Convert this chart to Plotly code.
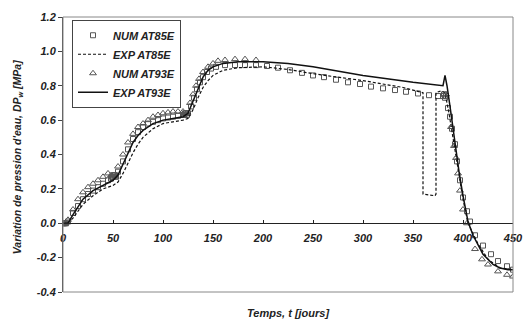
import plotly.graph_objects as go

# ---------------- data ----------------
# NUM AT85E (open squares)
num85_t = [0, 1, 2, 3, 5, 10, 15, 20, 25, 30, 35, 40, 45, 48, 49, 50, 51, 52, 53,
           55, 60, 65, 70, 75, 80, 85, 90, 95, 100, 105, 110, 115, 120, 121, 122, 123, 124, 125,
           128, 131, 134, 137, 140, 144, 148, 153, 162, 172, 182, 193, 204, 215, 227, 239,
           250, 261, 273, 285, 297, 308, 320, 332, 343, 355, 366, 375, 380, 381, 382, 383,
           385, 387, 389, 392, 394, 397, 400, 404, 407, 412, 420, 428, 435, 444, 450]
num85_v = [0.0, 0.0, 0.0, 0.0, 0.01, 0.06, 0.10, 0.14, 0.17, 0.19, 0.21, 0.23, 0.25, 0.26, 0.27, 0.27, 0.28, 0.28, 0.27,
           0.30, 0.36, 0.43, 0.49, 0.53, 0.56, 0.58, 0.59, 0.60, 0.61, 0.615, 0.62, 0.625, 0.63, 0.63, 0.64, 0.64, 0.63, 0.64,
           0.68, 0.73, 0.78, 0.82, 0.85, 0.88, 0.90, 0.91, 0.92, 0.92, 0.92, 0.92, 0.915, 0.905, 0.89, 0.875,
           0.86, 0.85, 0.835, 0.82, 0.81, 0.795, 0.785, 0.775, 0.765, 0.755, 0.745, 0.74, 0.74, 0.75, 0.73, 0.74,
           0.67, 0.62, 0.55, 0.46, 0.36, 0.25, 0.15, 0.07, 0.01, -0.07, -0.13, -0.18, -0.22, -0.25, -0.27]

# EXP AT85E (dashed line)
exp85_t = [0, 5, 10, 20, 30, 40, 50, 55, 60, 65, 70, 75, 80, 90, 100, 110, 120, 125,
           130, 135, 140, 145, 150, 160, 175, 200, 225, 250, 300, 340, 360, 360, 372, 373, 373,
           378, 382, 386, 390, 395, 400, 405, 415, 425, 437, 450]
exp85_v = [0.0, 0.0, 0.03, 0.11, 0.16, 0.20, 0.22, 0.24, 0.29, 0.35, 0.41, 0.46, 0.50, 0.55, 0.58, 0.59, 0.60, 0.61,
           0.66, 0.73, 0.79, 0.83, 0.86, 0.89, 0.905, 0.91, 0.895, 0.87, 0.83, 0.79, 0.76, 0.17, 0.16, 0.17, 0.76,
           0.77, 0.76, 0.64, 0.50, 0.31, 0.14, 0.0, -0.12, -0.21, -0.26, -0.27]

# NUM AT93E (open triangles)
num93_t = [0, 1, 2, 5, 10, 15, 20, 25, 30, 35, 40, 45, 48, 50, 52,
           55, 60, 65, 70, 75, 80, 85, 90, 95, 100, 105, 110, 115, 120, 122, 124,
           127, 130, 133, 136, 140, 145, 150, 155, 162, 172, 182, 193,
           383, 388, 391, 393, 395, 397, 400, 404, 412, 419, 425, 435, 444, 450]
num93_v = [0.0, 0.0, 0.0, 0.02, 0.08, 0.14, 0.18, 0.21, 0.23, 0.25, 0.27, 0.29, 0.28, 0.28, 0.27,
           0.33, 0.40, 0.47, 0.52, 0.56, 0.58, 0.60, 0.62, 0.63, 0.64, 0.645, 0.65, 0.65, 0.65, 0.64, 0.64,
           0.70, 0.75, 0.80, 0.84, 0.88, 0.91, 0.93, 0.945, 0.95, 0.955, 0.955, 0.95,
           0.75, 0.56, 0.45, 0.38, 0.29, 0.19, 0.08, 0.0, -0.15, -0.21, -0.24, -0.28, -0.30, -0.31]

# EXP AT93E (solid line)
exp93_t = [0, 5, 10, 20, 30, 40, 50, 55, 60, 65, 70, 75, 80, 90, 100, 110, 120, 125,
           130, 135, 140, 145, 150, 160, 175, 200, 225, 250, 300, 350, 380, 382, 384,
           387, 390, 393, 396, 400, 405, 410, 415, 420, 425, 430, 437, 445, 450]
exp93_v = [0.0, 0.0, 0.05, 0.14, 0.19, 0.22, 0.25, 0.28, 0.34, 0.41, 0.47, 0.51, 0.54, 0.58, 0.60, 0.61, 0.62, 0.64,
           0.71, 0.79, 0.85, 0.89, 0.91, 0.93, 0.94, 0.94, 0.93, 0.91, 0.86, 0.82, 0.80, 0.86, 0.80,
           0.68, 0.55, 0.42, 0.30, 0.16, 0.01, -0.07, -0.13, -0.18, -0.21, -0.24, -0.26, -0.27, -0.27]

x_ticks = [0, 50, 100, 150, 200, 250, 300, 350, 400, 450]
y_ticks = [-0.4, -0.2, 0.0, 0.2, 0.4, 0.6, 0.8, 1.0, 1.2]
y_ticktext = ["-0.4", "-0.2", "0.0", "0.2", "0.4", "0.6", "0.8", "1.0", "1.2"]

# ---------------- figure ----------------
FONT = "Liberation Sans, Arial, sans-serif"
TXT = "#222222"
MK = "#555555"

fig = go.Figure()
fig.add_trace(go.Scatter(x=num85_t, y=num85_v, mode="markers", name="NUM AT85E",
                         marker=dict(symbol="square-open", size=5, color=MK, line=dict(width=1, color=MK))))
fig.add_trace(go.Scatter(x=exp85_t, y=exp85_v, mode="lines", name="EXP AT85E",
                         line=dict(color="#111111", width=1.2, dash="3px,2px")))
fig.add_trace(go.Scatter(x=num93_t, y=num93_v, mode="markers", name="NUM AT93E",
                         marker=dict(symbol="triangle-up-open", size=6, color=MK, line=dict(width=1, color=MK))))
fig.add_trace(go.Scatter(x=exp93_t, y=exp93_v, mode="lines", name="EXP AT93E",
                         line=dict(color="#111111", width=1.5)))

fig.update_layout(
    width=523, height=321,
    margin=dict(l=63, r=10, t=17, b=29, autoexpand=False),
    paper_bgcolor="white", plot_bgcolor="white",
    font=dict(family=FONT, size=11, color=TXT, weight="bold", style="italic"),
    showlegend=True,
    legend=dict(x=0.02, y=0.99, xanchor="left", yanchor="top",
                bordercolor="#444444", borderwidth=1, bgcolor="white",
                font=dict(family=FONT, size=11, color=TXT, weight="bold", style="italic"),
                tracegroupgap=0, itemwidth=30),
    xaxis=dict(range=[0, 450], tickvals=x_ticks, ticktext=[str(v) for v in x_ticks],
               showgrid=False, zeroline=False, showline=True, linecolor="#222222", linewidth=1,
               ticks="inside", ticklen=3, tickcolor="#222222",
               anchor="free", position=0.25,
               ticklabeloverflow="allow", ticklabelstandoff=5,
               tickfont=dict(family=FONT, size=11, color=TXT, weight="bold", style="italic")),
    yaxis=dict(range=[-0.4, 1.2], tickvals=y_ticks, ticktext=y_ticktext,
               showgrid=False, zeroline=False, showline=True, linecolor="#444444", linewidth=1,
               ticks="outside", ticklen=4, tickcolor="#444444",
               tickfont=dict(family=FONT, size=11, color=TXT, weight="bold", style="italic")),
)

# plot frame
fig.add_shape(type="rect", xref="paper", yref="paper", x0=0, y0=0, x1=1, y1=1,
              line=dict(color="#888888", width=1), layer="above")

# axis titles
fig.add_annotation(text="Temps, t [jours]", xref="paper", yref="paper",
                   x=0.5, y=-0.076, xanchor="center", yanchor="middle", showarrow=False,
                   font=dict(family=FONT, size=11, color=TXT, weight="bold", style="italic"))
fig.add_annotation(text="Variation de pression d'eau, DP<sub>w</sub> [MPa]", xref="paper", yref="paper",
                   x=-0.1, y=0.49, xanchor="center", yanchor="middle", textangle=-90, showarrow=False,
                   font=dict(family=FONT, size=10.5, color=TXT, weight="bold", style="italic"))

# remove the default page margin so the 523x321 figure fills the window exactly
fig.write_html("out.html", config={"displayModeBar": False},
               post_script="document.body.style.margin='0';document.body.style.overflow='hidden';")
